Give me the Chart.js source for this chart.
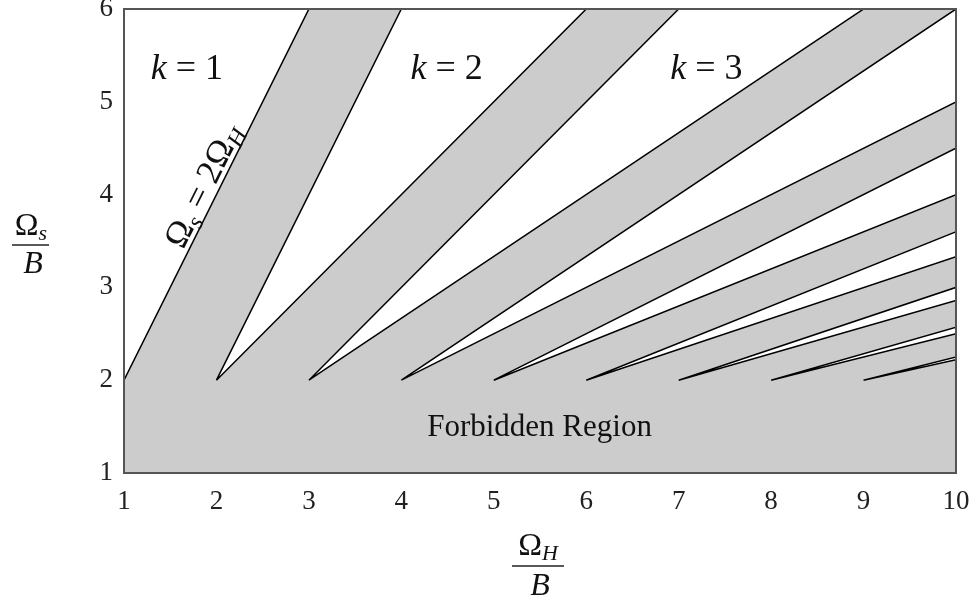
<!DOCTYPE html>
<html>
<head>
<meta charset="utf-8">
<script src="https://cdn.jsdelivr.net/npm/chart.js@4.4.1/dist/chart.umd.min.js"></script>
<style>
  html, body { margin: 0; padding: 0; background: #fff; }
  #wrap { width: 976px; height: 608px; }
</style>
</head>
<body>
<div id="wrap"><canvas id="grafica" width="976" height="608"></canvas></div>
<script>
const SERIF = '"Liberation Serif", "DejaVu Serif", serif';
const GRIS = '#cccccc';

// ticks de los ejes
const ticksX = [1, 2, 3, 4, 5, 6, 7, 8, 9, 10];
const ticksY = [1, 2, 3, 4, 5, 6];

// frontera k = 1 : Ωs = 2ΩH
const lineaK1X = [1, 3];
const lineaK1Y = [2, 6];

// cuñas blancas k = 2..9, vértice en (k, 2)
const cunaK = [2, 3, 4, 5, 6, 7, 8, 9];
const verticeY = 2;
const superiorX = [4, 7, 10, 10, 10, 10, 10, 10];
const superiorY = [6, 6, 6, 4.5, 3.6, 3.0, 2.57, 2.25];
const inferiorX = [6, 9, 10, 10, 10, 10, 10, 10];
const inferiorY = [6, 6, 5, 4, 3.33, 2.86, 2.5, 2.22];

// rótulos k = ...
const etiquetasK = ['1', '2', '3'];
const etiquetasKX = [1.68, 4.49, 7.30];
const etiquetasKY = 5.245;

const estiloCuna = {
    showLine: true,
    fill: 'shape',
    backgroundColor: '#ffffff',
    borderColor: '#000000',
    borderWidth: 1.5,
    pointRadius: 0,
    pointHoverRadius: 0,
    tension: 0
};

const datasets = [];

// región k = 1 (izquierda de la recta)
datasets.push({
    ...estiloCuna,
    data: [
        { x: lineaK1X[0], y: lineaK1Y[0] },
        { x: lineaK1X[1], y: lineaK1Y[1] },
        { x: ticksX[0], y: ticksY[ticksY.length - 1] },
        { x: lineaK1X[0], y: lineaK1Y[0] }
    ]
});

cunaK.forEach((k, i) => {
    datasets.push({
        ...estiloCuna,
        data: [
            { x: k, y: verticeY },
            { x: superiorX[i], y: superiorY[i] },
            { x: inferiorX[i], y: inferiorY[i] },
            { x: k, y: verticeY }
        ]
    });
});

function fuente(p) {
    return (p.it ? 'italic ' : '') + p.s + 'px ' + SERIF;
}

// texto con partes en cursiva / subíndice
function textoMixto(ctx, partes, x, y) {
    let ancho = 0;
    partes.forEach(p => { ctx.font = fuente(p); ancho += ctx.measureText(p.t).width; });
    let cx = x - ancho / 2;
    partes.forEach(p => {
        ctx.font = fuente(p);
        ctx.fillText(p.t, cx, y + (p.dy || 0));
        cx += ctx.measureText(p.t).width;
    });
}

function fraccion(ctx, arriba, cx, base1, lineaY, x0, x1, base2) {
    textoMixto(ctx, arriba, cx, base1);
    ctx.beginPath();
    ctx.moveTo(x0, lineaY);
    ctx.lineTo(x1, lineaY);
    ctx.lineWidth = 1.3;
    ctx.strokeStyle = '#222';
    ctx.stroke();
    textoMixto(ctx, [{ t: 'B', s: 32, it: true }], cx + 2, base2);
}

const pluginFondo = {
    id: 'fondo',
    beforeDatasetsDraw(chart) {
        const { ctx, chartArea: a } = chart;
        ctx.save();
        ctx.fillStyle = GRIS;
        ctx.fillRect(a.left, a.top, a.right - a.left, a.bottom - a.top);
        ctx.restore();
    },
    afterDatasetsDraw(chart) {
        const { ctx, chartArea: a } = chart;
        ctx.save();
        ctx.strokeStyle = '#555';
        ctx.lineWidth = 2;
        ctx.strokeRect(a.left, a.top, a.right - a.left, a.bottom - a.top);
        ctx.restore();
    },
    afterDraw(chart) {
        const { ctx } = chart;
        const sx = chart.scales.x, sy = chart.scales.y;
        ctx.save();
        ctx.fillStyle = '#111';
        ctx.textBaseline = 'alphabetic';

        etiquetasK.forEach((n, i) => {
            textoMixto(ctx, [
                { t: 'k', s: 36, it: true },
                { t: ' = ' + n, s: 36 }
            ], sx.getPixelForValue(etiquetasKX[i]), sy.getPixelForValue(etiquetasKY));
        });

        textoMixto(ctx, [{ t: 'Forbidden Region', s: 31 }],
            sx.getPixelForValue(5.495), sy.getPixelForValue(1.40));

        // Ωs = 2ΩH a lo largo de la recta
        const dx = sx.getPixelForValue(lineaK1X[1]) - sx.getPixelForValue(lineaK1X[0]);
        const dy = sy.getPixelForValue(lineaK1Y[1]) - sy.getPixelForValue(lineaK1Y[0]);
        ctx.save();
        ctx.translate(sx.getPixelForValue(2.01), sy.getPixelForValue(4.02));
        ctx.rotate(Math.atan2(dy, dx));
        textoMixto(ctx, [
            { t: 'Ω', s: 35 },
            { t: 's', s: 24, it: true, dy: 6 },
            { t: ' = 2Ω', s: 35 },
            { t: 'H', s: 24, it: true, dy: 6 }
        ], 0, -5);
        ctx.restore();

        // títulos de ejes
        fraccion(ctx, [{ t: 'Ω', s: 32 }, { t: 's', s: 22, it: true, dy: 5 }],
            31, 235, 245, 12, 49, 273);
        fraccion(ctx, [{ t: 'Ω', s: 32 }, { t: 'H', s: 22, it: true, dy: 5 }],
            538, 555, 566, 512, 564, 595);

        ctx.restore();
    }
};

new Chart(document.getElementById('grafica'), {
    type: 'scatter',
    data: { datasets },
    options: {
        responsive: false,
        animation: false,
        layout: { padding: { left: 0, right: 20, top: 9, bottom: 0 } },
        plugins: { legend: { display: false }, tooltip: { enabled: false } },
        scales: {
            x: {
                type: 'linear',
                min: 1,
                max: 10,
                afterBuildTicks: s => { s.ticks = ticksX.map(v => ({ value: v })); },
                afterFit: s => { s.height = 135; s.paddingLeft = 0; s.paddingRight = 0; },
                grid: { display: false, drawTicks: false },
                border: { display: false },
                ticks: {
                    font: { family: SERIF, size: 27 },
                    color: '#222',
                    padding: 13,
                    autoSkip: false,
                    maxRotation: 0
                }
            },
            y: {
                type: 'linear',
                min: 1,
                max: 6,
                afterBuildTicks: s => { s.ticks = ticksY.map(v => ({ value: v })); },
                afterFit: s => { s.width = 124; s.paddingTop = 0; s.paddingBottom = 0; },
                grid: { display: false, drawTicks: false },
                border: { display: false },
                ticks: {
                    font: { family: SERIF, size: 27 },
                    color: '#222',
                    padding: 11,
                    autoSkip: false
                }
            }
        }
    },
    plugins: [pluginFondo]
});
</script>
</body>
</html>
